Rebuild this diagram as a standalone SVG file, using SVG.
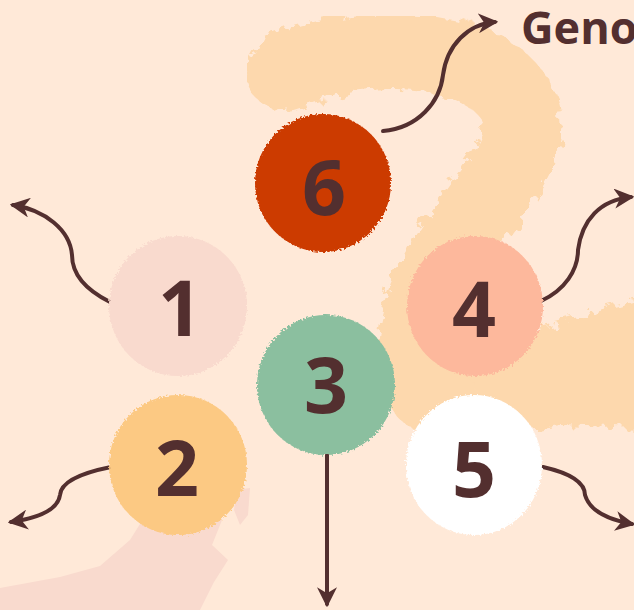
<svg xmlns="http://www.w3.org/2000/svg" width="634" height="610" viewBox="0 0 634 610">
<style>
.num{font-family:"Open Sans","Noto Sans",sans-serif;font-weight:700;font-size:77px;fill:#532F2F;text-anchor:middle}
.title{font-family:"Open Sans","Noto Sans",sans-serif;font-weight:700;font-size:45px;fill:#532F2F}
.con{fill:none;stroke:#532F2F;stroke-width:4;stroke-linecap:round;marker-end:url(#ah)}
.blob{filter:url(#rough)}
</style>
<defs>
<marker id="ah" viewBox="0 0 12 12" refX="10" refY="6" markerWidth="5" markerHeight="5" markerUnits="strokeWidth" orient="auto">
<path d="M0,0 L12,6 L0,12 L3.5,6 Z" fill="#532F2F"/>
</marker>
<filter id="rough" x="-10%" y="-10%" width="120%" height="120%">
<feTurbulence type="fractalNoise" baseFrequency="0.5" numOctaves="2" seed="3"/>
<feDisplacementMap in="SourceGraphic" scale="5"/>
</filter>
<filter id="brush" x="-10%" y="-10%" width="120%" height="120%">
<feTurbulence type="fractalNoise" baseFrequency="0.08" numOctaves="3" seed="7"/>
<feDisplacementMap in="SourceGraphic" scale="18"/>
</filter>
</defs>
<rect width="634" height="610" fill="#FFE9D8"/>
<g id="background">
<path d="M285,72 C350,45 450,40 500,82 C540,118 520,155 490,195 C460,235 420,290 415,345 C410,395 440,410 485,398 C545,382 600,362 660,352" fill="none" stroke="#FDD8AD" stroke-width="78" stroke-linecap="round" filter="url(#brush)"/>
<path d="M470,345 L560,322 L640,300 L640,428 L560,425 L480,438 Z" fill="#FDD8AD" filter="url(#brush)"/>
<path d="M0,588 L60,577 L100,566 L130,540 L150,508 L175,498 L212,494 L222,520 L212,545 L228,560 L214,582 L200,610 L0,610 Z" fill="#F9DACE"/>
<path d="M236,490 L250,488 L248,515 L240,525 L234,510 Z" fill="#F9DACE"/>
</g>
<g id="connectors">
<path class="con" d="M383,131 C418,128 440,102 443,75 C447,45 468,24 495,22"/>
<path class="con" d="M110,302 C86,290 72,275 72,255 C70,230 45,210 13,205"/>
<path class="con" d="M541,301 C565,290 578,270 578,250 C582,220 600,200 631,197"/>
<path class="con" d="M111,467 C86,472 61,480 60,495 C58,510 38,518 11,522"/>
<path class="con" d="M543,467 C565,472 585,480 585,495 C590,512 610,520 632,524"/>
<path class="con" d="M327,455 L327,604"/>
</g>
<g id="node-6"><ellipse class="blob" cx="323" cy="183" rx="68" ry="69" fill="#CC3A00"/><text class="num" x="324" y="215">6</text></g>
<g id="node-1"><ellipse class="blob" cx="178" cy="306" rx="69" ry="70" fill="#F9DACE"/><text class="num" x="180" y="336">1</text></g>
<g id="node-4"><ellipse class="blob" cx="475" cy="306" rx="68" ry="70" fill="#FDB89C"/><text class="num" x="474" y="337">4</text></g>
<g id="node-3"><ellipse class="blob" cx="326" cy="385" rx="69" ry="70" fill="#8BBF9F"/><text class="num" x="326" y="413">3</text></g>
<g id="node-2"><ellipse class="blob" cx="178" cy="465" rx="69" ry="70" fill="#FCC983"/><text class="num" x="177" y="496">2</text></g>
<g id="node-5"><ellipse class="blob" cx="474" cy="465" rx="68" ry="70" fill="#FFFFFF"/><text class="num" x="474" y="497">5</text></g>
<g id="title"><text class="title" x="521" y="44">Geno</text></g>
</svg>
